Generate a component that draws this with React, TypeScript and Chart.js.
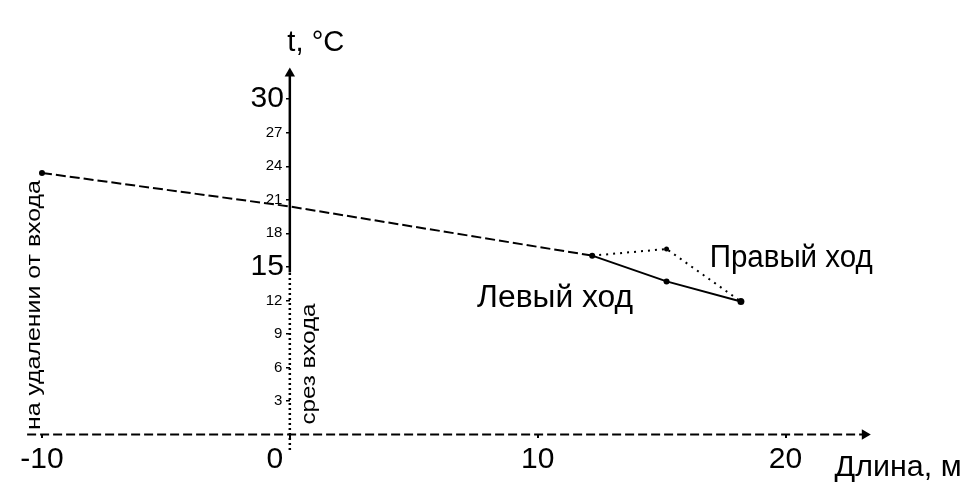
import React, { useEffect, useRef } from 'react';
import { Chart, registerables } from 'chart.js';

Chart.register(...registerables);

// ---- data ----
const leftX = [-10, 0, 12.2, 15.2, 18.2];
const leftY = [23.4, 20.4, 16.0, 13.7, 11.9];
const rightX = [12.2, 15.2, 18.2];
const rightY = [16.0, 16.6, 11.9];

// axis lines (drawn as arrows)
const xAxisLineX = [-10.6, 23.2];
const xAxisLineY = [0, 0];
const yAxisLineX = [0, 0, 0];
const yAxisLineY = [-1.4, 14.5, 32.3];

// tick labels
const xTickValues = [-10, 0, 10, 20];
const yTickValues = [3, 6, 9, 12, 15, 18, 21, 24, 27, 30];
const yMajorTicks = [15, 30];

// texts
const xTitle = 'Длина, м';
const yTitle = 't, °C';
const leftLabel = 'Левый ход';
const rightLabel = 'Правый ход';
const farLabel = 'на удалении от входа';
const entranceLabel = 'срез входа';

const FONT = "'Liberation Sans', Arial, sans-serif";

const pairs = (xs: number[], ys: number[]) => xs.map((x, i) => ({ x, y: ys[i] }));

type Note = { text: string; x: number; y: number; size: number; width: number; align: CanvasTextAlign; rotate?: boolean };

const notes: Note[] = [
  { text: yTitle, x: -0.1, y: 34.3, size: 30, width: 57, align: 'left' },
  { text: xTitle, x: 21.98, y: -3.7, size: 30, width: 127, align: 'left' },
  { text: rightLabel, x: 16.94, y: 15.0, size: 31, width: 163, align: 'left' },
  { text: leftLabel, x: 13.85, y: 11.4, size: 31, width: 156, align: 'right' },
  { text: farLabel, x: -10.08, y: 11.58, size: 20, width: 250, align: 'center', rotate: true },
  { text: entranceLabel, x: 1.0, y: 6.3, size: 21, width: 121, align: 'center', rotate: true },
];

const textPlugin = {
  id: 'notes',
  afterDraw(chart: any) {
    const { ctx, scales } = chart;
    const xs = scales.x;
    const ys = scales.y;
    notes.forEach((n) => {
      ctx.save();
      ctx.font = `${n.size}px ${FONT}`;
      ctx.fillStyle = '#000';
      const w = ctx.measureText(n.text).width;
      const sx = n.width / w;
      ctx.translate(xs.getPixelForValue(n.x), ys.getPixelForValue(n.y));
      if (n.rotate) ctx.rotate(-Math.PI / 2);
      ctx.scale(sx, 1);
      ctx.textAlign = n.align;
      ctx.textBaseline = 'alphabetic';
      ctx.fillText(n.text, 0, 0);
      ctx.restore();
    });
  },
};

export default function App() {
  const ref = useRef<HTMLCanvasElement>(null);

  useEffect(() => {
    const canvas = ref.current;
    if (!canvas) return;
    const chart = new Chart(canvas, {
      type: 'scatter',
      data: {
        datasets: [
          {
            label: leftLabel,
            data: pairs(leftX, leftY),
            showLine: true,
            borderColor: '#000',
            backgroundColor: '#000',
            borderWidth: 2,
            pointRadius: [3, 0, 3, 3, 3.5],
            pointBorderWidth: 0,
            pointBackgroundColor: '#000',
            segment: {
              borderDash: (c: any) => (c.p0DataIndex < 2 ? [10, 4] : []),
            },
            clip: false,
          } as any,
          {
            label: rightLabel,
            data: pairs(rightX, rightY),
            showLine: true,
            borderColor: '#000',
            backgroundColor: '#000',
            borderWidth: 2,
            borderDash: [2, 5],
            pointRadius: [0, 2.5, 0],
            pointBorderWidth: 0,
            pointBackgroundColor: '#000',
            clip: false,
          } as any,
          {
            label: 'x-axis',
            data: pairs(xAxisLineX, xAxisLineY),
            showLine: true,
            borderColor: '#000',
            borderWidth: 2,
            borderDash: [9, 4],
            pointStyle: 'triangle',
            rotation: 90,
            pointRadius: [0, 6],
            pointBorderWidth: 0,
            pointBackgroundColor: '#000',
            clip: false,
          } as any,
          {
            label: 'y-axis',
            data: pairs(yAxisLineX, yAxisLineY),
            showLine: true,
            borderColor: '#000',
            borderWidth: 2.5,
            pointStyle: 'triangle',
            pointRadius: [0, 0, 6],
            pointBorderWidth: 0,
            pointBackgroundColor: '#000',
            segment: {
              borderDash: (c: any) => (c.p0DataIndex === 0 ? [2, 3] : []),
            },
            clip: false,
          } as any,
        ],
      },
      options: {
        responsive: false,
        maintainAspectRatio: false,
        devicePixelRatio: 1,
        animation: false,
        layout: { padding: { left: 17.2, right: 5.4, top: 12, bottom: 19 } },
        elements: { line: { tension: 0 } },
        plugins: {
          legend: { display: false },
          tooltip: { enabled: false },
        },
        scales: {
          x: {
            type: 'linear',
            min: -11,
            max: 27,
            position: { y: 0 } as any,
            border: { display: false },
            grid: { drawOnChartArea: false, drawTicks: true, tickLength: 4, color: '#000', lineWidth: 2 },
            afterBuildTicks: (s: any) => {
              s.ticks = xTickValues.map((v) => ({ value: v }));
            },
            ticks: {
              autoSkip: false,
              maxRotation: 0,
              color: '#000',
              padding: 3,
              font: { family: FONT, size: 30 },
              callback: (v: any) => (Number(v) === 0 ? '0\u2003' : String(v)),
            },
          },
          y: {
            type: 'linear',
            min: -3,
            max: 37,
            position: { x: 0 } as any,
            border: { display: false },
            grid: { drawOnChartArea: false, drawTicks: true, tickLength: 4, color: '#000', lineWidth: 1.5 },
            afterBuildTicks: (s: any) => {
              s.ticks = yTickValues.map((v) => ({ value: v }));
            },
            ticks: {
              autoSkip: false,
              color: '#000',
              padding: 3,
              font: (c: any) => ({
                family: FONT,
                size: c.tick && yMajorTicks.includes(c.tick.value) ? 30 : 15,
              }),
              callback: (v: any) =>
                yMajorTicks.includes(Number(v)) ? String(v) + '\u2009' : String(v) + '\u2002',
            },
          },
        },
      },
      plugins: [textPlugin],
    });
    return () => chart.destroy();
  }, []);

  return (
    <div style={{ position: 'absolute', left: 0, top: 0, width: 965, height: 487, background: '#fff' }}>
      <canvas ref={ref} width={965} height={487} style={{ display: 'block', width: 965, height: 487 }} />
    </div>
  );
}
